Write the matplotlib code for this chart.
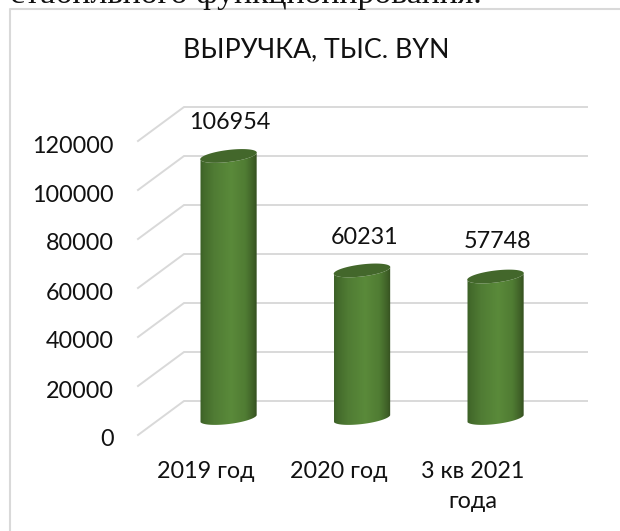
import numpy as np
import matplotlib
matplotlib.use("Agg")
import matplotlib.pyplot as plt
from matplotlib.colors import to_rgb
from matplotlib.path import Path
from matplotlib.patches import PathPatch

categories = ["2019 год", "2020 год", "3 кв 2021\nгода"]
values = [106954, 60231, 57748]
y_ticks = [0, 20000, 40000, 60000, 80000, 100000, 120000]
title = "ВЫРУЧКА, ТЫС. BYN"
page_text = "стабильного функционирования."

plt.rcParams["font.family"] = ["Lato", "Noto Sans", "DejaVu Sans"]

W, H = 620, 531
X0, DX = 228.5, 133.5   # pixel x of first bar, pixels between bars
Y0 = 418.0              # pixel y of value 0 in the bars' plane
PX_PER_VAL = 294 / 120000


def px_x(px):
    return (px - X0) / DX


def dy(px):
    # pixel height -> value units
    return px / PX_PER_VAL


fig = plt.figure(figsize=(W / 100, H / 100), dpi=100)
ax = fig.add_axes([0, 0, 1, 1])
ax.set_xlim(px_x(0), px_x(W))
ax.set_ylim(dy(Y0 - H), dy(Y0))
ax.axis("off")

# frame of the chart, runs off the page at right and bottom
ax.plot([px_x(9.5), px_x(9.5), px_x(W)], [dy(Y0 - H), dy(Y0 - 9), dy(Y0 - 9)],
        color="#d9d9d9", lw=1.5, zorder=1)

# grid: slanted floor lines and back wall
for v in y_ticks:
    ax.plot([px_x(138), px_x(184), px_x(587)], [v - dy(17), v + dy(17), v + dy(17)],
            color="#d9d9d9", lw=1.4, zorder=1, solid_joinstyle="miter")
    ax.text(px_x(114), v - dy(22), str(v), ha="right", va="center",
            fontsize=16.8, color="#111111")


def ellipse(cat, val, a=28.5, b=6.0, tilt=7.0, start=0, stop=360):
    t = np.radians(np.linspace(start, stop, 80))
    phi = np.radians(tilt)
    x = a * np.cos(t) * np.cos(phi) - b * np.sin(t) * np.sin(phi)
    y = a * np.cos(t) * np.sin(phi) + b * np.sin(t) * np.cos(phi)
    return cat + x / DX, val + dy(y)


stops = [0, 0.06, 0.25, 0.55, 0.8, 0.93, 1]
cols = ["#3c5f27", "#436a2b", "#507c34", "#5a8a3a", "#507c33", "#406228", "#344f20"]
rgb = np.array([to_rgb(c) for c in cols])
s = np.linspace(0, 1, 256)
grad = np.stack([np.interp(s, stops, rgb[:, i]) for i in range(3)], axis=-1)[None, :, :]

for i, (cat, val) in enumerate(zip(range(len(values)), values)):
    # body = lower half of the bottom ellipse + lower half of the top one, reversed
    bx, by = ellipse(cat, 0, start=187, stop=353)
    tx, ty = ellipse(cat, val, start=353, stop=187)
    verts = np.column_stack([np.r_[bx, tx], np.r_[by, ty]])
    body = PathPatch(Path(np.r_[verts, verts[:1]], closed=True), fc="none", ec="none",
                     transform=ax.transData)
    ax.add_patch(body)
    im = ax.imshow(grad, extent=[cat - 28.5 / DX, cat + 28.5 / DX, -dy(10), val + dy(10)],
                   aspect="auto", zorder=3, interpolation="bilinear")
    im.set_clip_path(body)
    ex, ey = ellipse(cat, val)
    ax.fill(ex, ey, color="#43672b", lw=0, zorder=4)

ax.set_xlim(px_x(0), px_x(W))
ax.set_ylim(dy(Y0 - H), dy(Y0))

# data labels
label_dx = [1, 3, 2]
label_dy = [33, 32.5, 35.5]
for i, val in enumerate(values):
    ax.text(i + label_dx[i] / DX, val + dy(label_dy[i]), str(val), ha="center", va="center",
            fontsize=16.8, color="#111111")

# category labels, they sit in the front plane
for i, lab in enumerate(categories):
    ax.text(i - 23 / DX, -dy(43), lab, ha="center", va="top", fontsize=16.8,
            color="#111111", linespacing=1.5, multialignment="center")

ax.text(px_x(316.5), dy(Y0 - 50), title, ha="center", va="center", fontsize=19.3, color="#111111")

# bottom of a line of page text cut off by the crop
ax.text(px_x(10), dy(Y0 - 3), page_text, ha="left", va="baseline", fontsize=24.4,
        family=["Liberation Serif", "DejaVu Serif"], color="#111111", clip_on=True)

fig.savefig("out.png", dpi=100)
